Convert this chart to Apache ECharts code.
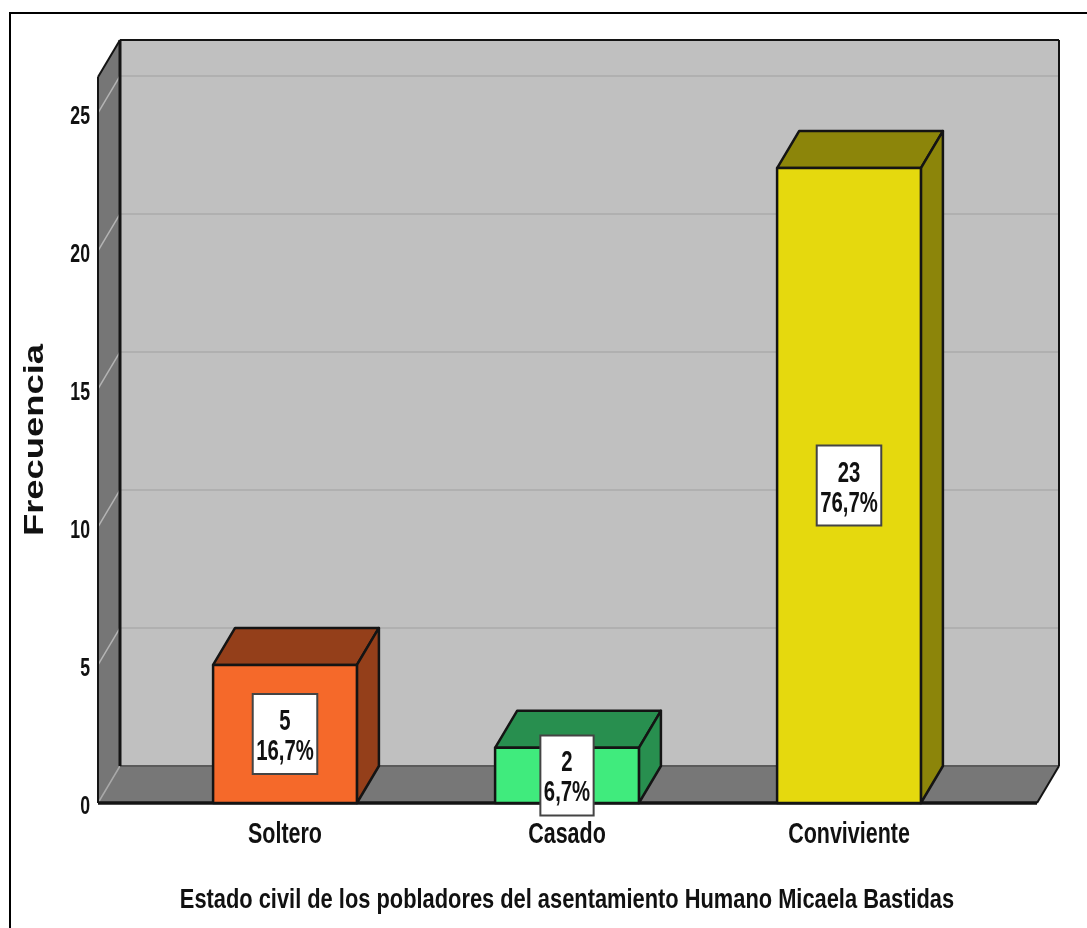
<!DOCTYPE html>
<html>
<head>
<meta charset="utf-8">
<style>html,body{margin:0;padding:0;background:#fff;overflow:hidden}#c{width:1087px;height:928px}</style>
<script src="https://cdn.jsdelivr.net/npm/echarts@6/dist/echarts.min.js"></script>
</head>
<body>
<div id="c"></div>
<script>
const categories = ['Soltero', 'Casado', 'Conviviente'];
const frecuencias = [5, 2, 23];
const porcentajes = ['16,7%', '6,7%', '76,7%'];
const yTicks = [0, 5, 10, 15, 20, 25];
const frontColors = ['#F5692A', '#40EB7D', '#E5D90E'];
const sideColors = ['#943F1A', '#288F4F', '#8C850A'];
const xTitle = 'Estado civil de los pobladores del asentamiento Humano Micaela Bastidas';
const yTitle = 'Frecuencia';

const DX = 22, DY = -37, EDGE = '#141414', FONT = '"Liberation Sans",Arial,sans-serif';
const wallLeftPad = 46, wallRightPad = 47;
const measureCtx = document.createElement('canvas').getContext('2d');

function poly(points, fill, stroke, lw) {
  return { type: 'polygon', shape: { points }, style: { fill, stroke: stroke || 'none', lineWidth: lw || 0, lineJoin: 'round' } };
}
function line(x1, y1, x2, y2, stroke, lw) {
  return { type: 'line', shape: { x1, y1, x2, y2 }, style: { stroke, lineWidth: lw } };
}
function label(text, x, y, size, scaleX, align, rotation) {
  return {
    type: 'text', x, y, scaleX, scaleY: 1, rotation: rotation || 0,
    style: { text, x: 0, y: 0, align: align || 'center', verticalAlign: 'middle', font: 'bold ' + size + 'px ' + FONT, fill: '#111' }
  };
}
function renderWalls(params, api) {
  const cs = params.coordSys;
  const L = cs.x - wallLeftPad, R = cs.x + cs.width + wallRightPad, T = cs.y, B = cs.y + cs.height;
  const ch = [
    poly([[L + DX, T + DY], [R + DX, T + DY], [R + DX, B + DY], [L + DX, B + DY]], '#C0C0C0'),
    poly([[L, T], [L + DX, T + DY], [L + DX, B + DY], [L, B]], '#767676'),
    poly([[L, B], [L + DX, B + DY], [R + DX, B + DY], [R, B]], '#777777')
  ];
  yTicks.forEach(v => {
    const y = api.coord([0, v])[1];
    if (v > 0) ch.push(line(L + DX, y + DY, R + DX, y + DY, '#B0B0B0', 2));
    ch.push(line(L, y, L + DX, y + DY, v > 0 ? '#B4B4B4' : '#A8A8A8', 1.5));
  });
  ch.push(line(L + DX, B + DY, R + DX, B + DY, '#5A5A5A', 2));
  ch.push(line(L + DX, T + DY, R + DX, T + DY, EDGE, 2));
  ch.push(line(R + DX, T + DY, R + DX, B + DY, EDGE, 2));
  ch.push(line(R + DX, B + DY, R, B, EDGE, 2));
  ch.push(line(L + DX, T + DY, L + DX, B + DY, EDGE, 3));
  ch.push(line(L, T, L + DX, T + DY, EDGE, 2));
  ch.push(line(L, T, L, B, EDGE, 2));
  ch.push(line(L, B, R, B, EDGE, 3.5));
  return { type: 'group', children: ch };
}
function renderBar(params, api) {
  const i = api.value(0), v = api.value(1);
  const c = api.coord([i, v]), b = api.coord([i, 0]);
  const w = api.size([1, 0])[0] * 0.51;
  const x0 = c[0] - w / 2, x1 = c[0] + w / 2, yt = c[1], yb = b[1], ym = (yt + yb) / 2;
  const font = 'bold 29px ' + FONT, scale = 0.7;
  measureCtx.font = font;
  const boxW = measureCtx.measureText(porcentajes[i]).width * scale + 7, boxH = 80;
  const children = [
    poly([[x0, yt], [x0 + DX, yt + DY], [x1 + DX, yt + DY], [x1, yt]], sideColors[i], EDGE, 2.5),
    poly([[x1, yt], [x1 + DX, yt + DY], [x1 + DX, yb + DY], [x1, yb]], sideColors[i], EDGE, 2.5),
    poly([[x0, yt], [x1, yt], [x1, yb], [x0, yb]], frontColors[i], EDGE, 2.5),
    { type: 'rect', shape: { x: c[0] - boxW / 2, y: ym - boxH / 2, width: boxW, height: boxH }, style: { fill: '#fff', stroke: '#444', lineWidth: 2 } },
    {
      type: 'text', x: c[0], y: ym + 3, scaleX: scale,
      style: {
        text: frecuencias[i] + '\n' + porcentajes[i],
        x: 0, y: 0, align: 'center', verticalAlign: 'middle',
        font, fill: '#111', lineHeight: 30
      }
    }
  ];
  return { type: 'group', children };
}
function renderLabels(params, api) {
  const cs = params.coordSys;
  const B = cs.y + cs.height, L = cs.x - wallLeftPad;
  const ch = [];
  categories.forEach((c, i) => ch.push(label(c, api.coord([i, 0])[0], B + 32, 29, 0.74)));
  yTicks.forEach(v => ch.push(label(String(v), L - 8, api.coord([0, v])[1] + 4, 26, 0.68, 'right')));
  ch.push(label(xTitle, cs.x + cs.width / 2, B + 97, 28, 0.78));
  ch.push(label(yTitle, 35, cs.y + cs.height / 2, 28, 1.3, 'center', Math.PI / 2));
  return { type: 'group', children: ch };
}

const chart = echarts.init(document.getElementById('c'), null, { renderer: 'canvas' });
chart.setOption({
  animation: false,
  backgroundColor: '#fff',
  grid: { left: 144, right: 97, top: 77, bottom: 125, containLabel: false },
  graphic: [{
    type: 'polyline', silent: true, z: 0,
    shape: { points: [[10, 928], [10, 13], [1087, 13]] },
    style: { stroke: '#000', lineWidth: 2, fill: 'none' }
  }],
  xAxis: {
    type: 'category', data: categories,
    axisLine: { show: false }, axisTick: { show: false }, axisLabel: { show: false }
  },
  yAxis: {
    type: 'value', min: 0, max: 26.3, interval: 5,
    splitLine: { show: false }, axisLine: { show: false }, axisTick: { show: false }, axisLabel: { show: false }
  },
  series: [
    { type: 'custom', z: 1, silent: true, clip: false, data: [[0, 0]], encode: { x: 0, y: 1 }, renderItem: renderWalls },
    { type: 'custom', z: 3, silent: true, clip: false, data: [[0, 0]], encode: { x: 0, y: 1 }, renderItem: renderLabels },
    { type: 'custom', z: 2, silent: true, clip: false, data: categories.map((c, i) => [i, frecuencias[i]]), encode: { x: 0, y: 1 }, renderItem: renderBar }
  ]
});
</script>
</body>
</html>
